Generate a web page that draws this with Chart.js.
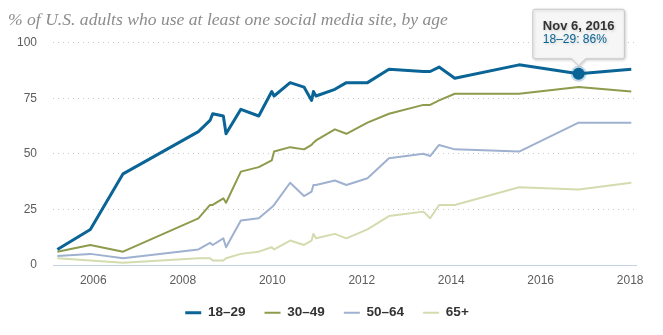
<!DOCTYPE html>
<html>
<head>
<meta charset="utf-8">
<script src="https://cdn.jsdelivr.net/npm/chart.js@4.4.1/dist/chart.umd.min.js"></script>
<style>
    html, body { margin: 0; padding: 0; background: #fff; }
    canvas { display: block; }
</style>
</head>
<body>
<canvas id="socialChart" width="663" height="335"></canvas>
<script>
// survey dates and share of adults per age group
const surveyDates = [
    '2005-03-14', '2005-12-08', '2006-09-01', '2008-05-08', '2008-08-11', '2008-09-02',
    '2008-11-28', '2008-12-20', '2009-04-20', '2009-09-13', '2009-12-28', '2010-01-16',
    '2010-05-27', '2010-09-17', '2010-11-18', '2010-12-03', '2010-12-24', '2011-05-27',
    '2011-08-29', '2012-02-17', '2012-08-11', '2013-05-19', '2013-07-13', '2013-09-24',
    '2014-01-30', '2015-07-09', '2016-11-06', '2018-01-10'
];
const age18to29 = [7, 16, 41, 60, 65, 68, 67, 59, 70, 67, 78, 76, 82, 80, 74, 78, 76, 79, 82, 82, 88, 87, 87, 89, 84, 90, 86, 88];
const age30to49 = [6, 9, 6, 21, 27, 27, 30, 28, 42, 44, 47, 51, 53, 52, 54, 55, 56, 61, 59, 64, 68, 72, 72, 74, 77, 77, 80, 78];
const age50to64 = [4, 5, 3, 7, 10, 9, 12, 8, 20, 21, 26, 27, 37, 31, 33, 36, 36, 38, 36, 39, 48, 50, 49, 54, 52, 51, 64, 64];
const age65plus = [3, 2, 1, 3, 3, 2, 2, 3, 5, 6, 8, 7, 11, 9, 11, 14, 12, 14, 12, 16, 22, 24, 21, 27, 27, 35, 34, 37];

const seriesLabels = ['18–29', '30–49', '50–64', '65+'];
const xTickYears = [2006, 2008, 2010, 2012, 2014, 2016, 2018];
const yTickValues = [0, 25, 50, 75, 100];
const monthNames = ['Jan', 'Feb', 'Mar', 'Apr', 'May', 'Jun', 'Jul', 'Aug', 'Sep', 'Oct', 'Nov', 'Dec'];
const highlightIndex = 26; // Nov 6, 2016

const colors = ['#0a6496', '#8d9b4c', '#9fb1d0', '#d3dcaf'];
const sansFont = "'Liberation Sans', Arial, sans-serif";

// date string -> fractional year, so the x axis can stay linear
function toYear(iso) {
    const d = new Date(iso + 'T00:00:00Z');
    const y = d.getUTCFullYear();
    const start = Date.UTC(y, 0, 1);
    const end = Date.UTC(y + 1, 0, 1);
    return y + (d.getTime() - start) / (end - start);
}

function formatDate(iso) {
    const d = new Date(iso + 'T00:00:00Z');
    return `${monthNames[d.getUTCMonth()]} ${d.getUTCDate()}, ${d.getUTCFullYear()}`;
}

const xValues = surveyDates.map(toYear);
const toPoints = values => values.map((v, i) => ({ x: xValues[i], y: v }));

const seriesValues = [age18to29, age30to49, age50to64, age65plus];

const datasets = seriesValues.map((values, i) => ({
    label: seriesLabels[i],
    data: toPoints(values),
    borderColor: colors[i],
    backgroundColor: colors[i],
    borderWidth: i === 0 ? 3 : 2,
    borderJoinStyle: 'round',
    tension: 0,
    pointRadius: 0,
    pointHoverRadius: i === 0 ? 6 : 0,
    pointHoverBackgroundColor: colors[i],
    pointHoverBorderColor: 'rgba(10, 100, 150, 0.25)',
    pointHoverBorderWidth: 4
}));

// soft shadow behind the tooltip box
const tooltipShadow = {
    id: 'tooltipShadow',
    beforeTooltipDraw(chart) {
        const ctx = chart.ctx;
        ctx.save();
        ctx.shadowColor = 'rgba(0, 0, 0, 0.18)';
        ctx.shadowBlur = 3;
        ctx.shadowOffsetX = 1;
        ctx.shadowOffsetY = 1;
    },
    afterTooltipDraw(chart) {
        chart.ctx.restore();
    }
};

const chart = new Chart(document.getElementById('socialChart'), {
    type: 'line',
    data: { datasets },
    plugins: [tooltipShadow],
    options: {
        responsive: false,
        animation: false,
        events: [],
        layout: { padding: { left: 8, right: 17, top: 0, bottom: 5.5 } },
        scales: {
            x: {
                type: 'linear',
                min: 2005.1,
                max: 2018.13,
                afterBuildTicks: scale => { scale.ticks = xTickYears.map(v => ({ value: v })); },
                afterFit: scale => { scale.height = 22; },
                ticks: {
                    callback: v => String(v),
                    color: '#5c5c5c',
                    font: { family: sansFont, size: 12 },
                    padding: 8,
                    maxRotation: 0,
                    autoSkip: false
                },
                grid: { color: 'transparent', drawTicks: false },
                border: { display: true, color: '#c5d3e6', width: 1 }
            },
            y: {
                min: 0,
                max: 100,
                afterBuildTicks: scale => { scale.ticks = yTickValues.map(v => ({ value: v })); },
                afterFit: scale => { scale.width = 45; },
                ticks: {
                    color: '#5c5c5c',
                    font: { family: sansFont, size: 12 },
                    padding: 16
                },
                grid: {
                    drawTicks: false,
                    color: ctx => (ctx.tick && ctx.tick.value === 0 ? 'transparent' : '#c8c8c8')
                },
                border: { display: false, dash: [1, 4] }
            },
            yRight: {
                type: 'linear',
                position: 'right',
                afterFit: scale => { scale.width = 10; },
                ticks: { display: false },
                grid: { display: false },
                border: { display: false }
            }
        },
        plugins: {
            title: {
                display: true,
                text: '% of U.S. adults who use at least one social media site, by age',
                align: 'start',
                color: '#8c8c8c',
                font: { family: "'Liberation Serif', Georgia, serif", style: 'italic', weight: 'normal', size: 17.6, lineHeight: 1.2 },
                padding: { top: 9.5, bottom: 12 }
            },
            legend: {
                position: 'bottom',
                labels: {
                    usePointStyle: true,
                    pointStyle: 'line',
                    pointStyleWidth: 16,
                    padding: 19,
                    color: '#333',
                    font: { family: sansFont, size: 13.5, weight: 'bold' }
                }
            },
            tooltip: {
                xAlign: 'center',
                yAlign: 'bottom',
                backgroundColor: 'rgba(247, 247, 247, 0.97)',
                borderColor: '#c8c8c8',
                borderWidth: 1,
                cornerRadius: 2,
                caretSize: 7,
                caretPadding: 8,
                padding: { top: 10, bottom: 12, left: 10, right: 10 },
                displayColors: false,
                titleColor: '#333',
                titleFont: { family: sansFont, size: 13, weight: 'bold', lineHeight: 1.1 },
                titleMarginBottom: 0,
                bodyColor: colors[0],
                bodyFont: { family: sansFont, size: 12, lineHeight: 1.1 },
                callbacks: {
                    title: items => formatDate(surveyDates[items[0].dataIndex]),
                    label: item => `${item.dataset.label}: ${item.parsed.y}%`
                }
            }
        }
    }
});

// show the hovered point + tooltip as in the reference
const active = [{ datasetIndex: 0, index: highlightIndex }];
chart.setActiveElements(active);
chart.tooltip.setActiveElements(active, { x: 0, y: 0 });
chart.update();
</script>
</body>
</html>
